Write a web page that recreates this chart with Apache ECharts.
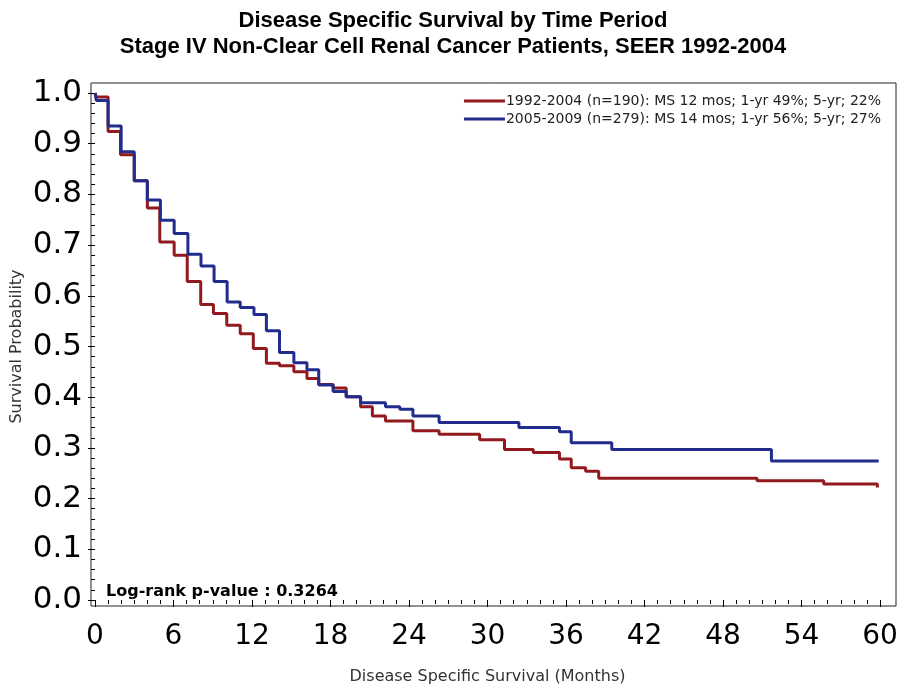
<!DOCTYPE html>
<html>
<head>
<meta charset="utf-8">
<script src="https://cdn.jsdelivr.net/npm/echarts@6/dist/echarts.min.js"></script>
<style>html,body{margin:0;padding:0;background:#fff;}#chart{width:906px;height:684px;}</style>
</head>
<body>
<div id="chart"></div>
<script>
// ---- data ----
const titleLines = ['Disease Specific Survival by Time Period', 'Stage IV Non-Clear Cell Renal Cancer Patients, SEER 1992-2004'];
const seriesNames = ['1992-2004 (n=190): MS 12 mos; 1-yr 49%; 5-yr; 22%', '2005-2009 (n=279): MS 14 mos; 1-yr 56%; 5-yr; 27%'];
const monthsA = [0, 0.1, 1.0, 1.95, 3.0, 4.0, 4.95, 6.05, 7.05, 8.08, 9.05, 10.07, 11.1, 12.1, 13.1, 14.1, 15.2, 16.2, 17.1, 18.2, 19.2, 20.3, 21.2, 22.2, 24.3, 26.3, 29.4, 31.3, 33.5, 35.5, 36.4, 37.5, 38.5, 50.6, 55.7, 59.8];
const survA   = [1.0, 0.992, 0.924, 0.878, 0.827, 0.773, 0.706, 0.680, 0.628, 0.583, 0.565, 0.542, 0.525, 0.496, 0.467, 0.462, 0.450, 0.437, 0.425, 0.418, 0.401, 0.381, 0.363, 0.353, 0.334, 0.327, 0.316, 0.297, 0.291, 0.278, 0.261, 0.254, 0.240, 0.235, 0.229, 0.222];
const monthsB = [0, 0.1, 1.0, 2.0, 3.0, 4.0, 5.0, 6.05, 7.1, 8.1, 9.1, 10.1, 11.1, 12.15, 13.1, 14.1, 15.2, 16.2, 17.1, 18.2, 19.2, 20.3, 22.2, 23.3, 24.3, 26.3, 32.4, 35.5, 36.4, 39.5, 51.7, 59.9];
const survB   = [1.0, 0.985, 0.935, 0.884, 0.827, 0.789, 0.749, 0.723, 0.682, 0.659, 0.628, 0.588, 0.577, 0.563, 0.531, 0.488, 0.468, 0.454, 0.424, 0.411, 0.401, 0.389, 0.381, 0.376, 0.363, 0.350, 0.340, 0.332, 0.310, 0.297, 0.274, 0.274];
const xTickMin = 0, xTickMax = 60, xTickStep = 6;
const yTickMin = 0, yTickMax = 1, yTickStep = 0.1;
const pValueText = 'Log-rank p-value : 0.3264';
const xAxisName = 'Disease Specific Survival (Months)';
const yAxisName = 'Survival Probability';

const zip = (xs, ys) => xs.map((x, i) => [x, ys[i]]);

const chart = echarts.init(document.getElementById('chart'), null, {renderer: 'canvas'});
chart.setOption({
  animation: false,
  backgroundColor: '#ffffff',
  title: [
    {text: titleLines[0], left: 'center', top: 5, textStyle: {fontFamily: 'Liberation Sans', fontWeight: 'bold', fontSize: 22, color: '#000'}},
    {text: titleLines[1], left: 'center', top: 31, textStyle: {fontFamily: 'Liberation Sans', fontWeight: 'bold', fontSize: 22, color: '#000'}},
    {text: pValueText, left: 101, top: 579, textStyle: {fontFamily: 'DejaVu Sans', fontWeight: 'bold', fontSize: 16, color: '#000'}}
  ],
  legend: {
    data: seriesNames,
    orient: 'vertical',
    right: 20,
    top: 89,
    itemGap: 4,
    itemWidth: 41,
    itemHeight: 3,
    icon: 'rect',
    textStyle: {fontFamily: 'DejaVu Sans', fontSize: 14, color: '#222', padding: [0, 0, 0, -4]}
  },
  grid: {left: 95, right: 26, top: 93, bottom: 84, containLabel: false, outerBoundsMode: 'none'},
  xAxis: {
    type: 'value',
    min: xTickMin, max: xTickMax, interval: xTickStep,
    offset: 6,
    axisLine: {show: false},
    axisTick: {show: true, length: 7, lineStyle: {color: '#000', width: 1}},
    minorTick: {show: true, splitNumber: 6, length: 4, lineStyle: {color: '#000', width: 1}},
    splitLine: {show: false},
    axisLabel: {fontFamily: 'DejaVu Sans', fontSize: 28, color: '#000', margin: 17},
    name: xAxisName,
    nameLocation: 'middle',
    nameGap: 63,
    nameTextStyle: {fontFamily: 'DejaVu Sans', fontSize: 16, color: '#333'}
  },
  yAxis: {
    type: 'value',
    min: yTickMin, max: yTickMax, interval: yTickStep,
    offset: 4,
    axisLine: {show: false},
    axisTick: {show: true, length: 7, lineStyle: {color: '#000', width: 1}},
    minorTick: {show: true, splitNumber: 5, length: 4, lineStyle: {color: '#000', width: 1}},
    splitLine: {show: false},
    axisLabel: {fontFamily: 'DejaVu Sans', fontSize: 31, color: '#000', margin: 9, formatter: v => v.toFixed(1)},
    name: yAxisName,
    nameLocation: 'middle',
    nameGap: 66,
    nameMoveOverlap: false,
    nameTextStyle: {fontFamily: 'DejaVu Sans', fontSize: 16, color: '#333'}
  },
  graphic: [
    {type: 'rect', shape: {x: 91, y: 83, width: 805, height: 523}, style: {fill: 'none', stroke: '#222', lineWidth: 1}, silent: true, z: 0}
  ],
  series: [
    {name: seriesNames[0], type: 'line', step: 'end', showSymbol: false, symbol: 'none', data: zip(monthsA, survA), lineStyle: {color: '#921A1E', width: 3}, itemStyle: {color: '#921A1E'}, z: 3},
    {name: seriesNames[1], type: 'line', step: 'end', showSymbol: false, symbol: 'none', data: zip(monthsB, survB), lineStyle: {color: '#222C8C', width: 3}, itemStyle: {color: '#222C8C'}, z: 4}
  ]
});
</script>
</body>
</html>
